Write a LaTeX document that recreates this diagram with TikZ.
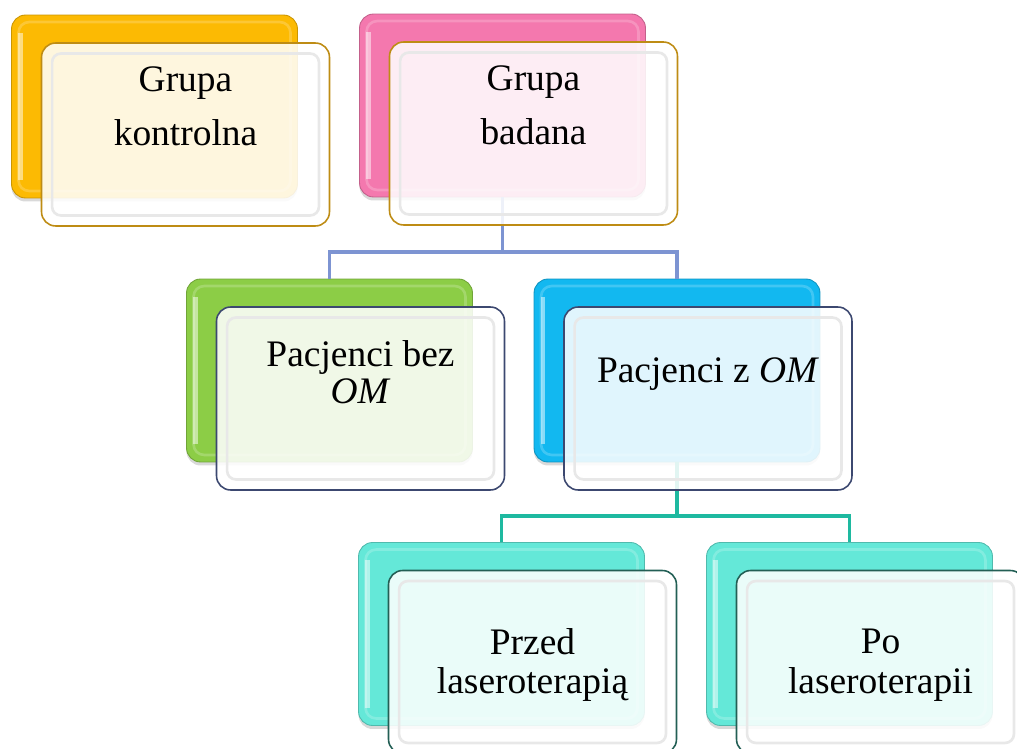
\documentclass[tikz,border=0pt]{standalone}
\usepackage{fontspec}
\setmainfont{Liberation Serif}
\usetikzlibrary{positioning,shadows,calc}
\definecolor{goldbox}{RGB}{252,186,3}
\definecolor{pinkbox}{RGB}{244,120,174}
\definecolor{greenbox}{RGB}{140,205,70}
\definecolor{bluebox}{RGB}{18,184,240}
\definecolor{tealbox}{RGB}{100,232,216}
\definecolor{goldedge}{RGB}{190,140,20}
\definecolor{navyedge}{RGB}{60,72,112}
\definecolor{tealedge}{RGB}{35,95,85}
\definecolor{bluelink}{RGB}{125,148,210}
\definecolor{teallink}{RGB}{30,185,160}

\begin{document}
\begin{tikzpicture}[
    x=0.02cm, y=-0.02cm,
    backbox/.style={rectangle, rounded corners=8pt, fill=#1, draw=#1!80!black, line width=0.5pt,
                 minimum width=5.72cm, minimum height=3.66cm,
                 drop shadow={opacity=0.3, shadow xshift=0pt, shadow yshift=-2pt},
                 path picture={
                   \draw[white, opacity=0.2, line width=1.5pt, rounded corners=6pt]
                     ([shift={(4pt,4pt)}]path picture bounding box.south west) rectangle
                     ([shift={(-4pt,-4pt)}]path picture bounding box.north east);
                   \draw[white, opacity=0.5, line width=2.5pt]
                     ([shift={(5pt,10pt)}]path picture bounding box.south west) --
                     ([shift={(5pt,-10pt)}]path picture bounding box.north west);}},
    frontbox/.style={rectangle, rounded corners=8pt, draw=#1, line width=0.9pt,
                 fill=white, fill opacity=0.87, text opacity=1,
                 minimum width=5.76cm, minimum height=3.66cm,
                 path picture={\draw[gray!18, line width=1.5pt, rounded corners=5pt]
                   ([shift={(6pt,6pt)}]path picture bounding box.south west) rectangle
                   ([shift={(-6pt,-6pt)}]path picture bounding box.north east);}},
    branch/.style={draw=#1, line width=1.8pt},
    lbl/.style={font=\fontsize{21.3}{#1}\selectfont, align=center, inner sep=0pt},
    lbl/.default=26pt
]
\clip (0,0) rectangle (1017,749);

% coloured back plates
\node[backbox=goldbox] (gkB) at (154.5,106.5) {};
\node[backbox=pinkbox] (gbB) at (502.5,105.5) {};
\node[backbox=greenbox] (pbB) at (329.5,370.5) {};
\node[backbox=bluebox] (pzB) at (677,370.5) {};
\node[backbox=tealbox] (przedB) at (501.5,634) {};
\node[backbox=tealbox] (poB) at (849.5,634) {};

% tree lines
\coordinate (fork1) at (gbB.center |- 0,252);
\coordinate (fork2) at (pzB.center |- 0,516);
\draw[branch=bluelink] (gbB) -- (fork1);
\draw[branch=bluelink] (pbB.north) |- (fork1) -| (pzB.north);
\draw[branch=teallink] (pzB) -- (fork2);
\draw[branch=teallink] (przedB.north) |- (fork2) -| (poB.north);

% glassy front cards
\node[frontbox=goldedge] (gkF) at ([shift={(31,28)}]gkB.center) {};
\node[frontbox=goldedge] (gbF) at ([shift={(31,28)}]gbB.center) {};
\node[frontbox=navyedge] (pbF) at ([shift={(31,28)}]pbB.center) {};
\node[frontbox=navyedge] (pzF) at ([shift={(31,28)}]pzB.center) {};
\node[frontbox=tealedge] (przedF) at ([shift={(31,28)}]przedB.center) {};
\node[frontbox=tealedge] (poF) at ([shift={(31,28)}]poB.center) {};

\node[lbl=30.6pt] (gkT) at ([shift={(0,-28)}]gkF.center) {Grupa\\kontrolna};
\node[lbl=30.6pt] (gbT) at ([shift={(0,-28)}]gbF.center) {Grupa\\badana};
\node[lbl=21pt] (pbT) at ([shift={(0,-26)}]pbF.center) {Pacjenci bez\\\textit{OM}};
\node[lbl] (pzT) at ([shift={(0,-24)}]pzF.center) {Pacjenci z \textit{OM}};
\node[lbl=22.7pt] (przedT) at ([shift={(0,3)}]przedF.center) {Przed\\laseroterapią};
\node[lbl=22.7pt] (poT) at ([shift={(0,3)}]poF.center) {Po\\laseroterapii};
\end{tikzpicture}
\end{document}
